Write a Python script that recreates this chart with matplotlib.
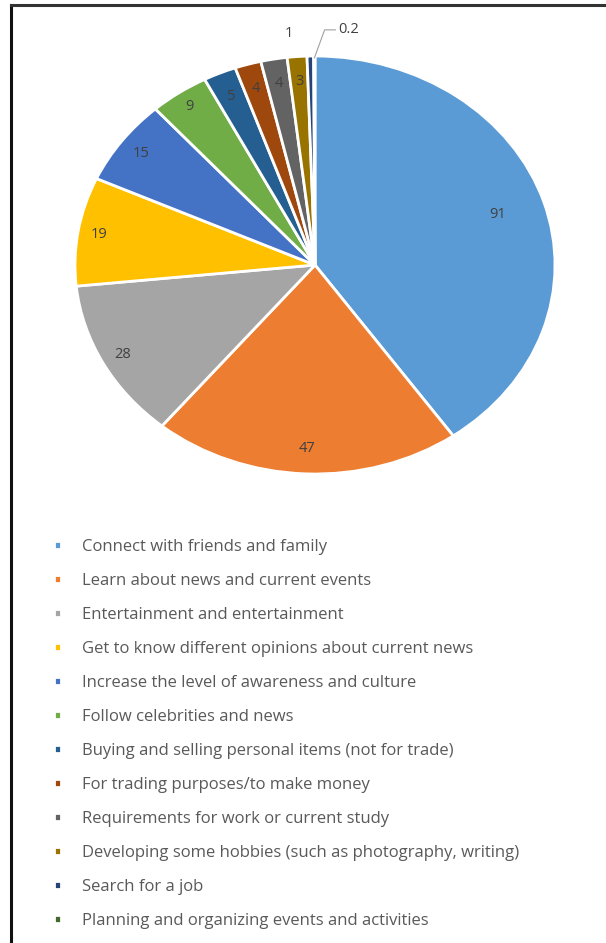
import numpy as np
import matplotlib
matplotlib.use("Agg")
import matplotlib.pyplot as plt
from matplotlib.lines import Line2D

plt.rcParams['font.family'] = ['Open Sans', 'DejaVu Sans']

categories = [
    "Connect with friends and family",
    "Learn about news and current events",
    "Entertainment and entertainment",
    "Get to know different opinions about current news",
    "Increase the level of awareness and culture",
    "Follow celebrities and news",
    "Buying and selling personal items (not for trade)",
    "For trading purposes/to make money",
    "Requirements for work or current study",
    "Developing some hobbies (such as photography, writing)",
    "Search for a job",
    "Planning and organizing events and activities",
]
values = [91, 47, 28, 19, 15, 9, 5, 4, 4, 3, 1, 0.2]
value_labels = ["91", "47", "28", "19", "15", "9", "5", "4", "4", "3", "1", "0.2"]
colors = ["#5B9BD5", "#ED7D31", "#A5A5A5", "#FFC000", "#4472C4", "#70AD47",
          "#255E91", "#9E480E", "#636363", "#997300", "#264478", "#43682B"]

# radial position of each label inside the slice
label_r = [0.80, 0.88, 0.91, 0.91, 0.90, 0.92, 0.88, 0.88, 0.88, 0.88, None, None]

W, H = 606, 943
fig = plt.figure(figsize=(W / 100, H / 100), dpi=100)

# pie is drawn slightly stretched horizontally, like the reference
ax = fig.add_axes([75 / W, 1 - 474 / H, 480 / W, 418 / H])
wedges, _ = ax.pie(values, colors=colors, startangle=90, counterclock=False,
                   wedgeprops=dict(edgecolor="white", linewidth=2))
ax.set_aspect("auto")
ax.set_xlim(-1, 1)
ax.set_ylim(-1, 1)
ax.axis("off")

for w, txt, r in zip(wedges, value_labels, label_r):
    if r is None:
        continue
    mid = np.deg2rad((w.theta1 + w.theta2) / 2)
    ax.text(r * np.cos(mid), r * np.sin(mid), txt, ha="center", va="center",
            fontsize=10.5, color="#404040")

# outside labels for the two tiny slices
mid = np.deg2rad((wedges[10].theta1 + wedges[10].theta2) / 2)
ax.text(np.cos(mid) - 0.09, 1.11, value_labels[10], ha="center", va="center",
        fontsize=10.5, color="#404040")
mid = np.deg2rad((wedges[11].theta1 + wedges[11].theta2) / 2)
ax.annotate(value_labels[11], xy=(np.cos(mid), np.sin(mid) - 0.01),
            xytext=(np.cos(mid) + 0.1, 1.125), ha="left", va="center",
            fontsize=10.5, color="#404040",
            arrowprops=dict(arrowstyle="-", color="#a0a0a0", lw=0.8,
                            connectionstyle="angle,angleA=0,angleB=70,rad=0",
                            shrinkA=0, shrinkB=0))

fig.legend(wedges, categories, loc="upper left",
           bbox_to_anchor=(54 / W, 1 - 539 / H), frameon=False,
           fontsize=12, labelcolor="#595959", handlelength=0.4,
           handleheight=0.4, handletextpad=1.3, labelspacing=1.08,
           borderaxespad=0, borderpad=0)

# frame lines of the screenshot
fig.add_artist(Line2D([11 / W, 11 / W], [0, 1 - 5 / H], color="#111111", lw=2.2,
                      transform=fig.transFigure))
fig.add_artist(Line2D([11 / W, 1], [1 - 5 / H, 1 - 5 / H], color="#333333", lw=2.2,
                      transform=fig.transFigure))

fig.savefig("out.png", dpi=100)
